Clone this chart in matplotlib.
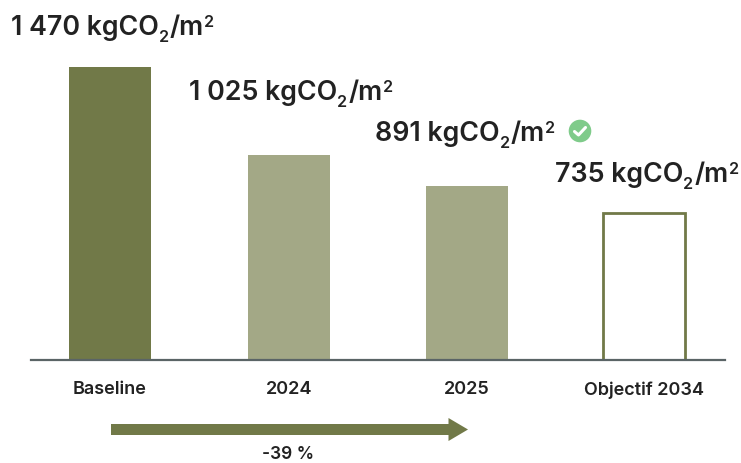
import matplotlib
matplotlib.use("Agg")
import matplotlib.pyplot as plt
from matplotlib.patches import Circle, Polygon

categories = ["Baseline", "2024", "2025", "Objectif 2034"]
# bar heights (2025 bar is drawn lower than its label)
bar_values = [1470, 1025, 873, 735]
value_labels = ["1 470", "1 025", "891", "735"]
reduction_label = "-39 %"

OLIVE = "#717948"
OLIVE_LIGHT = "#a3a886"
AXIS = "#5a6466"
TEXT = "#222222"
FONT = ["Inter", "DejaVu Sans"]

W, H = 741, 464


def unit_label(ax, x, y, value, size=19.3):
    # value + kgCO2/m2 written piece by piece to get the small 2s in place
    pieces = [(value + " kgCO", size, 0, 0), ("2", size * 0.6, 7, -1), ("/m", size, 0, 0), ("2", size * 0.6, -8, -1)]
    r = ax.figure.canvas.get_renderer()
    for s, fs, dy, gap in pieces:
        t = ax.text(x + gap, y + dy, s, fontsize=fs, color=TEXT, family=FONT, weight="semibold",
                    ha="left", va="baseline")
        x += t.get_window_extent(r).width + gap + 1


def plot():
    fig = plt.figure(figsize=(W / 100, H / 100), dpi=100)

    # main axes: baseline at y=361 px, x line from 31 to 725 px
    ax = fig.add_axes([31 / W, (H - 361) / H, (725 - 31) / W, 293.5 / H])
    pos = [0, 1.005, 2.005, 3]
    colors = [OLIVE, OLIVE_LIGHT, OLIVE_LIGHT, "white"]
    edges = [OLIVE, OLIVE_LIGHT, OLIVE_LIGHT, OLIVE]
    ax.bar(pos, bar_values, width=0.46, color=colors, edgecolor=edges, linewidth=[0, 0, 0, 2])
    ax.set_xlim(-0.444, 3.455)
    ax.set_ylim(0, 1470)
    ax.set_yticks([])
    ax.set_xticks(pos)
    ax.set_xticklabels(categories, fontsize=13, color=TEXT, family=FONT, weight="semibold")
    ax.tick_params(axis="x", length=0, pad=14.5)
    for s in ["top", "left", "right"]:
        ax.spines[s].set_visible(False)
    ax.spines["bottom"].set_color(AXIS)
    ax.spines["bottom"].set_linewidth(1.6)

    # overlay in pixel coordinates for labels, icon and arrow
    ov = fig.add_axes([0, 0, 1, 1])
    ov.set_xlim(0, W)
    ov.set_ylim(H, 0)
    ov.axis("off")
    ov.patch.set_alpha(0)

    unit_label(ov, 11, 35, value_labels[0])
    unit_label(ov, 189, 100, value_labels[1])
    unit_label(ov, 375, 141, value_labels[2])
    unit_label(ov, 555, 182, value_labels[3])

    ov.add_patch(Circle((580, 132), 11.3, color="#7fcb8a", lw=0))
    ov.plot([574.5, 578.5, 585.5], [132.5, 136, 128.5], color="white", lw=2.2,
            solid_capstyle="round", solid_joinstyle="round")

    ov.add_patch(Polygon([(111, 425), (448.5, 425), (448.5, 419), (468, 430.5), (448.5, 442),
                          (448.5, 436), (111, 436)], closed=True, color=OLIVE, lw=0))
    ov.text(288, 454.5, reduction_label, fontsize=12.5, color=TEXT, family=FONT, weight="semibold",
            ha="center", va="center")

    fig.savefig("out.png", dpi=100)


if __name__ == '__main__':
    plot()
